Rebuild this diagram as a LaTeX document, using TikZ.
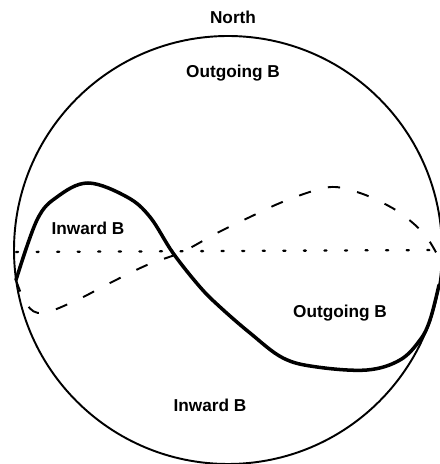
\documentclass[tikz,border=0pt]{standalone}
\usepackage{fontspec}
\setmainfont{Liberation Sans}
\usepackage{tikz}
\usetikzlibrary{positioning}
\tikzset{
    rim/.style={draw, line width=1.1pt},
    fieldline/.style={line width=2pt, line cap=round, line join=round},
    dashline/.style={line width=1.1pt, dash pattern=on 7pt off 10pt},
    dotline/.style={line width=1.3pt, dash pattern=on 1.2pt off 10.5pt, line cap=round},
    lbl/.style={font=\fontsize{9.8}{11}\selectfont\bfseries, inner sep=0pt},
}
\begin{document}
\begin{tikzpicture}
    \useasboundingbox (-4.56,-4.28) rectangle (4.22,5.0);
    % sphere outline
    \draw[rim] (0,0) circle (4.28);
    % equator
    \coordinate (eqW) at (-4.24,-0.04);
    \coordinate (eqE) at (4.24,0);
    \draw[dotline] (eqW) -- (eqE);
    % current sheet, solid
    \draw[fieldline] plot[smooth, tension=0.6] coordinates {
        (-4.24,-0.60) (-3.82,0.60) (-3.42,1.06) (-2.80,1.34) (-2.02,1.06)
        (-1.56,0.66) (-1.10,-0.06) (-0.56,-0.74) (-0.16,-1.14) (0.44,-1.66)
        (1.10,-2.16) (1.78,-2.34) (2.78,-2.40) (3.44,-2.20) (3.84,-1.80)
        (4.04,-1.40) (4.22,-0.70)};
    % current sheet, dashed
    \draw[dashline] plot[smooth, tension=0.6] coordinates {
        (-4.24,-0.60) (-4.02,-1.10) (-3.70,-1.26) (-3.02,-1.00) (-2.40,-0.68)
        (-1.62,-0.30) (-0.92,-0.04) (-0.22,0.34) (0.44,0.66) (1.04,0.94)
        (1.70,1.18) (2.14,1.26) (2.64,1.14) (3.10,0.94) (3.50,0.70)
        (3.94,0.30) (4.22,-0.16)};
    % labels
    \node[lbl] (north) at (0.10,4.66) {North};
    \node[lbl] (outN) at (0.10,3.54) {Outgoing B};
    \node[lbl] (inW) at (-2.80,0.44) {Inward B};
    \node[lbl] (outE) at (2.24,-1.26) {Outgoing B};
    \node[lbl] (inS) at (-0.36,-3.10) {Inward B};
\end{tikzpicture}
\end{document}
